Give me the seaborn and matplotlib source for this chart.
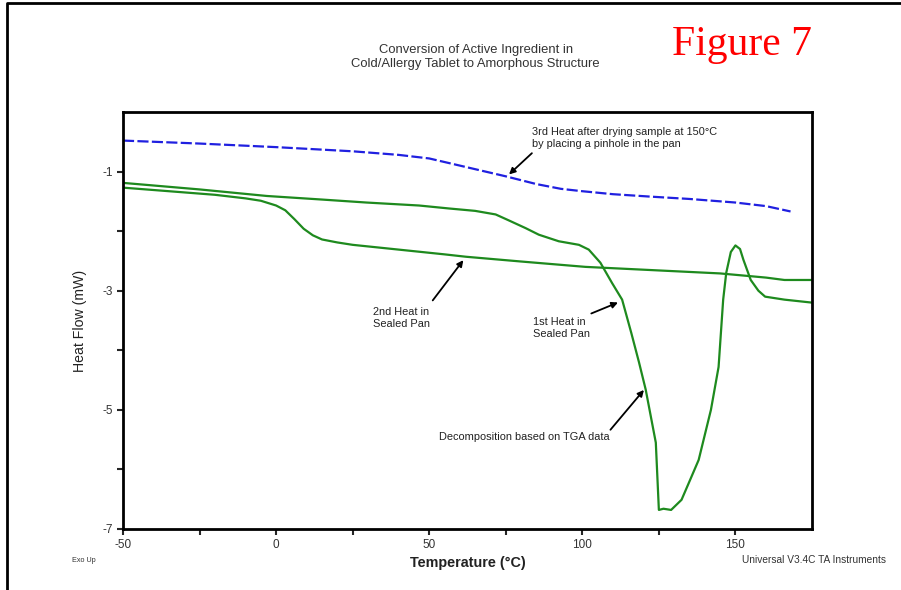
import matplotlib
matplotlib.use("Agg")
import matplotlib.pyplot as plt
import matplotlib.lines as mlines
import numpy as np
import pandas as pd
import seaborn as sns

# DSC curves (temperature in C, heat flow in mW)
third_heat_temp = [-50, -25, 0, 25, 40, 50, 57.5, 65, 75, 85, 93, 100, 110, 122, 135, 150, 160, 168]
third_heat_flow = [-0.48, -0.53, -0.59, -0.66, -0.72, -0.78, -0.87, -0.96, -1.08, -1.21, -1.29, -1.33,
                   -1.38, -1.42, -1.46, -1.52, -1.58, -1.67]

second_heat_temp = [-50, -35, -20, -10, -5, 0, 3, 6, 9, 12, 15, 20, 25, 40, 55, 62, 80, 101,
                    125, 145, 160, 166, 175]
second_heat_flow = [-1.27, -1.33, -1.39, -1.45, -1.49, -1.57, -1.65, -1.80, -1.96, -2.07, -2.14,
                    -2.19, -2.23, -2.31, -2.39, -2.43, -2.51, -2.60, -2.66, -2.71, -2.78, -2.82, -2.82]

first_heat_temp = [-50, -25, -3, 15, 29.5, 46.7, 56.5, 65, 71.7, 76, 81.5, 85.8, 92.3, 98.9, 102.1,
                   105.9, 109.7, 113, 116, 118.5, 120.7, 124, 125, 126.5, 129, 132.4, 135, 138,
                   142, 144.5, 146, 147, 148.5, 150, 151.5, 152.6, 155, 157.5, 159.7, 166, 175]
first_heat_flow = [-1.19, -1.30, -1.41, -1.47, -1.52, -1.57, -1.62, -1.66, -1.72, -1.82, -1.95,
                   -2.06, -2.17, -2.23, -2.31, -2.53, -2.87, -3.15, -3.71, -4.20, -4.66, -5.55,
                   -6.68, -6.66, -6.68, -6.51, -6.20, -5.84, -5.00, -4.28, -3.15, -2.70, -2.35,
                   -2.24, -2.30, -2.48, -2.82, -3.00, -3.10, -3.15, -3.20]

x_ticks = [-50, 0, 50, 100, 150]
y_ticks = [-7, -5, -3, -1]

sns.set_style("ticks")
plt.rcParams['font.family'] = ['Liberation Sans', 'DejaVu Sans']
plt.rcParams['axes.unicode_minus'] = False

fig = plt.figure(figsize=(9.01, 5.90), dpi=100)
ax = fig.add_axes([0.1365, 0.1034, 0.7647, 0.7068])

green = "#1e8a1e"
blue = "#2020e0"

df3 = pd.DataFrame({"T": third_heat_temp, "HF": third_heat_flow})
df2 = pd.DataFrame({"T": second_heat_temp, "HF": second_heat_flow})
df1 = pd.DataFrame({"T": first_heat_temp, "HF": first_heat_flow})

sns.lineplot(data=df3, x="T", y="HF", ax=ax, color=blue, lw=1.6, sort=False, estimator=None,
             linestyle=(0, (5, 1.5)))
sns.lineplot(data=df2, x="T", y="HF", ax=ax, color=green, lw=1.6, sort=False, estimator=None)
sns.lineplot(data=df1, x="T", y="HF", ax=ax, color=green, lw=1.6, sort=False, estimator=None)

ax.set_xlim(-50, 175)
ax.set_ylim(-7, 0)
ax.set_xticks(x_ticks)
ax.set_xticks([-25, 25, 75, 125], minor=True)
ax.set_yticks(y_ticks)
ax.set_yticks([-6, -4, -2], minor=True)
ax.tick_params(which="both", direction="out", length=4, width=1.5, labelsize=8.5,
               labelcolor="#333333", pad=3)
for s in ax.spines.values():
    s.set_linewidth(2)
    s.set_color("black")

ax.set_xlabel("Temperature (°C)", fontsize=10.4, fontweight="bold", color="#222222", labelpad=4)
ax.set_ylabel("Heat Flow (mW)", fontsize=10.2, color="#222222", labelpad=11)

# annotations
akw = dict(arrowstyle="-|>", color="black", lw=1.3, mutation_scale=9)
tkw = dict(fontsize=7.9, color="#222222", va="center", linespacing=1.25)
ax.annotate("", xy=(75.4, -1.08), xytext=(84.2, -0.66), arrowprops=akw)
ax.text(83.5, -0.445, "3rd Heat after drying sample at 150°C\nby placing a pinhole in the pan", **tkw)
ax.annotate("", xy=(61.7, -2.45), xytext=(50.6, -3.2), arrowprops=akw)
ax.text(31.8, -3.45, "2nd Heat in\nSealed Pan", **tkw)
ax.annotate("", xy=(112.5, -3.18), xytext=(102.1, -3.40), arrowprops=akw)
ax.text(83.9, -3.62, "1st Heat in\nSealed Pan", **tkw)
ax.annotate("", xy=(120.7, -4.63), xytext=(108.6, -5.37), arrowprops=akw)
ax.text(53.3, -5.45, "Decomposition based on TGA data", **tkw)

fig.text(0.528, 1 - 57 / 590, "Conversion of Active Ingredient in\nCold/Allergy Tablet to Amorphous Structure",
         ha="center", va="center", fontsize=9.4, color="#333333", linespacing=1.15)
fig.text(0.8235, 0.925, "Figure 7", ha="center", va="center", fontsize=30, color="red",
         family="Liberation Serif")
fig.text(72 / 901, 1 - 560 / 590, "Exo Up", fontsize=5.2, color="#333333", va="center")
fig.text(886 / 901, 1 - 560 / 590, "Universal V3.4C TA Instruments", fontsize=7.3,
         color="#333333", va="center", ha="right")

# frame on the left and top edges of the page
fig.add_artist(mlines.Line2D([7 / 901, 7 / 901, 1], [0, 1 - 3 / 590, 1 - 3 / 590],
                             transform=fig.transFigure, color="black", lw=2))

fig.savefig("out.png", dpi=100)
